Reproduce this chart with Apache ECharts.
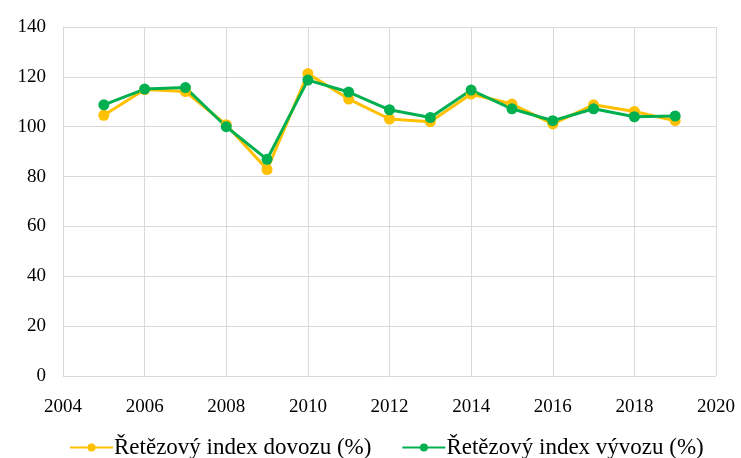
<!DOCTYPE html>
<html>
<head>
<meta charset="utf-8">
<script src="https://cdn.jsdelivr.net/npm/echarts@6/dist/echarts.min.js"></script>
<style>
  html, body { margin: 0; padding: 0; background: #fff; }
  #chart { width: 741px; height: 458px; }
</style>
</head>
<body>
<div id="chart"></div>
<script>
  const years = [2005, 2006, 2007, 2008, 2009, 2010, 2011, 2012, 2013, 2014, 2015, 2016, 2017, 2018, 2019]
  const dovoz = [104.6, 114.9, 114.1, 100.8, 82.8, 121.3, 111.1, 103.1, 102.0, 113.1, 109.1, 101.1, 108.8, 106.1, 102.4]
  const vyvoz = [108.8, 115.1, 115.7, 100.0, 86.9, 118.7, 113.9, 106.8, 103.7, 114.7, 107.2, 102.4, 107.2, 104.0, 104.3]
  const names = ['Řetězový index dovozu (%)', 'Řetězový index vývozu (%)']

  const font = '"Liberation Serif", "Times New Roman", serif'
  const chart = echarts.init(document.getElementById('chart'))

  const makeSeries = (name, values, color) => ({
    name: name,
    type: 'line',
    data: years.map((y, i) => [y, values[i]]),
    symbol: 'circle',
    symbolSize: 11,
    lineStyle: { color: color, width: 3 },
    itemStyle: { color: color },
    animation: false
  })

  chart.setOption({
    textStyle: { fontFamily: font },
    grid: { left: 63, right: 25, top: 27, bottom: 82 },
    legend: {
      top: 431,
      left: 64,
      itemWidth: 43,
      itemHeight: 10,
      itemGap: 30,
      textStyle: { fontFamily: font, fontSize: 23, color: '#000', padding: [0, 0, 0, -4] },
      data: names
    },
    xAxis: {
      type: 'value',
      min: 2004,
      max: 2020,
      interval: 2,
      axisLine: { show: false },
      axisTick: { show: false },
      axisLabel: { color: '#000', fontSize: 19, fontFamily: font, margin: 22, formatter: (v) => String(v) },
      splitLine: { show: true, lineStyle: { color: '#d9d9d9', width: 1 } }
    },
    yAxis: {
      type: 'value',
      min: 0,
      max: 140,
      interval: 20,
      axisLine: { show: true, lineStyle: { color: '#d9d9d9' } },
      axisTick: { show: false },
      axisLabel: { color: '#000', fontSize: 19, fontFamily: font, margin: 17 },
      splitLine: { show: true, lineStyle: { color: '#d9d9d9', width: 1 } }
    },
    series: [
      makeSeries(names[0], dovoz, '#FFC000'),
      makeSeries(names[1], vyvoz, '#00B050')
    ]
  })
</script>
</body>
</html>
